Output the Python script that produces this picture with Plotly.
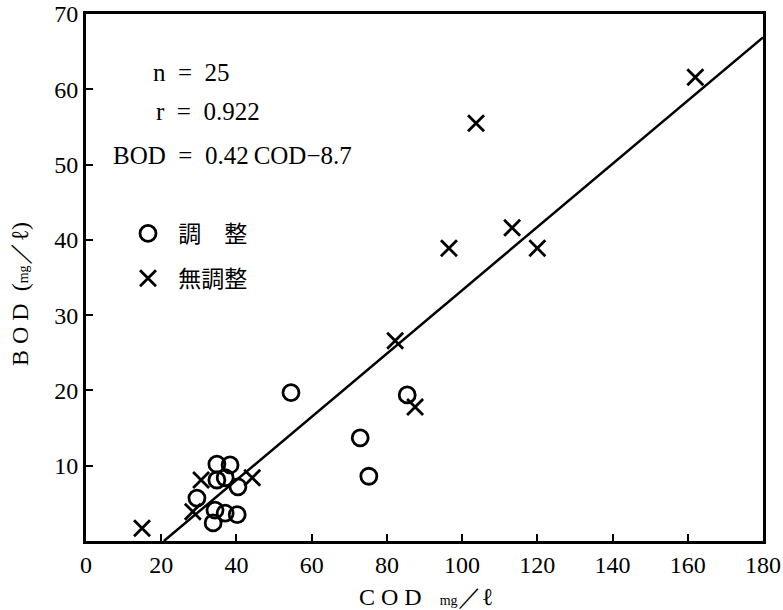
import numpy as np
import plotly.graph_objects as go

# 調整 (circles)
adj_cod = [54.5, 72.9, 75.2, 85.4, 34.8, 38.3, 34.8, 37.0, 40.4, 29.5, 34.3, 37.0, 40.2, 33.8]
adj_bod = [19.7, 13.7, 8.6, 19.4, 10.2, 10.1, 8.1, 8.4, 7.2, 5.7, 4.1, 3.7, 3.5, 2.4]
# 無調整 (crosses)
non_cod = [103.7, 162.0, 96.5, 113.3, 120.0, 82.2, 87.5, 14.9, 30.6, 28.4, 44.2]
non_bod = [55.5, 61.6, 38.9, 41.6, 38.9, 26.6, 17.8, 1.7, 8.1, 3.9, 8.4]

slope = 0.42
intercept = -8.7
x_ticks = [0, 20, 40, 60, 80, 100, 120, 140, 160, 180]
y_ticks = [10, 20, 30, 40, 50, 60, 70]

serif = "Liberation Serif, Times New Roman, serif"
cjk = "Noto Sans CJK JP, sans-serif"

line_x = np.array([-intercept / slope, 180.0])
line_y = slope * line_x + intercept

fig = go.Figure()
fig.add_trace(go.Scatter(x=line_x, y=line_y, mode="lines",
                         line=dict(color="black", width=2.5), showlegend=False))
fig.add_trace(go.Scatter(x=adj_cod, y=adj_bod, mode="markers", name="  調　整",
                         legendgroup="a",
                         marker=dict(symbol="circle-open", size=16, color="black",
                                     line=dict(width=2.8, color="black"))))
fig.add_trace(go.Scatter(x=non_cod, y=non_bod, mode="markers", name="  無調整",
                         legendgroup="b",
                         marker=dict(symbol="x-thin-open", size=16, color="black",
                                     line=dict(width=2.8, color="black"))))

ann_font = dict(family=serif, size=25, color="black")
fig.add_annotation(text="n\u2002=\u200225", xref="paper", yref="paper",
                   x=(151 - 86) / 677, y=(541 - 72) / 527,
                   xanchor="left", yanchor="middle", showarrow=False, font=ann_font)
fig.add_annotation(text="r\u2002=\u20020.922", xref="paper", yref="paper",
                   x=(154 - 86) / 677, y=(541 - 112) / 527,
                   xanchor="left", yanchor="middle", showarrow=False, font=ann_font)
fig.add_annotation(text="BOD\u2002=\u20020.42\u2009COD−8.7", xref="paper", yref="paper",
                   x=(111 - 86) / 677, y=(541 - 155) / 527,
                   xanchor="left", yanchor="middle", showarrow=False, font=ann_font)

fig.add_annotation(text="B O D\u2002(<span style='font-size:14px'>mg</span>／ℓ)",
                   xref="paper", yref="paper", textangle=-90,
                   x=(20 - 86) / 677, y=(541 - 294) / 527,
                   xanchor="center", yanchor="middle", showarrow=False,
                   font=dict(family=serif, size=24, color="black"))
fig.add_annotation(text="C O D\u2002 <span style='font-size:14px'>mg</span>／ℓ",
                   xref="paper", yref="paper",
                   x=(426 - 86) / 677, y=(541 - 597) / 527,
                   xanchor="center", yanchor="middle", showarrow=False,
                   font=dict(family=serif, size=24, color="black"))

axis_common = dict(showline=True, linewidth=3, linecolor="black", mirror=True,
                   ticks="inside", ticklen=7, tickwidth=2, tickcolor="black",
                   showgrid=False, zeroline=False, automargin=False,
                   tickfont=dict(family=serif, size=24, color="black"))
fig.update_xaxes(range=[0, 180], tickvals=x_ticks, **axis_common)
fig.update_yaxes(range=[0, 70], tickvals=y_ticks, **axis_common)

fig.update_layout(
    width=783, height=610,
    margin=dict(l=86, r=20, t=14, b=69, autoexpand=False),
    paper_bgcolor="white", plot_bgcolor="white",
    legend=dict(x=(128 - 86) / 677, y=(541 - 212) / 527, xanchor="left", yanchor="top",
                bgcolor="rgba(0,0,0,0)", tracegroupgap=12,
                font=dict(family=cjk, size=23, color="black")),
)
# remove the browser's default 8px body margin so the figure sits at the window's corner
fig.write_html("out.html", config={"displayModeBar": False},
               post_script="document.body.style.margin='0';document.body.style.overflow='hidden';")
